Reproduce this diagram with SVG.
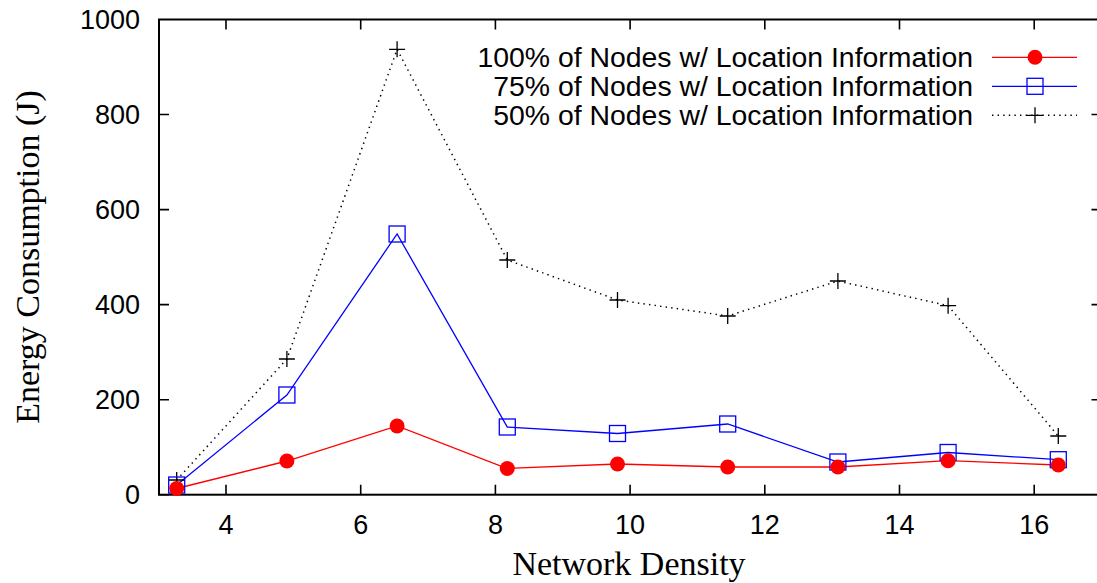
<svg xmlns="http://www.w3.org/2000/svg" width="1097" height="583" viewBox="0 0 1097 583">
<style>
.t{font-family:"Liberation Sans",Arial,sans-serif;font-size:27px;fill:#000}
.lg{font-family:"Liberation Sans",Arial,sans-serif;font-size:28.4px;fill:#000}
.ttl{font-family:"Liberation Serif","Times New Roman",serif;font-size:34px;fill:#000}
.ax{stroke:#000;stroke-width:2;fill:none}
.tk{stroke:#000;stroke-width:1.6}
.red{stroke:#ff0000;stroke-width:1.3;fill:none}
.blue{stroke:#0000ff;stroke-width:1.3;fill:none}
.blk{stroke:#000;stroke-width:1.5;fill:none;stroke-dasharray:1.4 4.2}
.sq{stroke:#0000ff;stroke-width:1.3;fill:none}
.pl{stroke:#000;stroke-width:1.3}
</style>
<defs>
<circle id="mc" r="7.5" fill="#ff0000"/>
<rect id="ms" x="-8" y="-8" width="16" height="16" class="sq"/>
<path id="mp" d="M-8,0H8M0,-8V8" class="pl"/>
</defs>
<rect width="1097" height="583" fill="#fff"/>
<g id="axes">
<rect x="159" y="19.5" width="942.5" height="475.2" class="ax"/>
<g class="tk">
<path d="M159,494.7h10M159,399.7h10M159,304.6h10M159,209.6h10M159,114.5h10M1101.5,399.7h-10M1101.5,304.6h-10M1101.5,209.6h-10M1101.5,114.5h-10"/>
<path d="M226,494.7v-10M360.7,494.7v-10M495.4,494.7v-10M630.1,494.7v-10M764.8,494.7v-10M899.5,494.7v-10M1034.2,494.7v-10"/>
<path d="M226,19.5v10M360.7,19.5v10M495.4,19.5v10M630.1,19.5v10M764.8,19.5v10M899.5,19.5v10M1034.2,19.5v10"/>
</g>
<g class="t" text-anchor="end">
<text x="140" y="504">0</text>
<text x="140" y="409">200</text>
<text x="140" y="314">400</text>
<text x="140" y="219">600</text>
<text x="140" y="124">800</text>
<text x="140" y="29">1000</text>
</g>
<g class="t" text-anchor="middle">
<text x="226" y="534">4</text>
<text x="360.7" y="534">6</text>
<text x="495.4" y="534">8</text>
<text x="630.1" y="534">10</text>
<text x="764.8" y="534">12</text>
<text x="899.5" y="534">14</text>
<text x="1034.2" y="534">16</text>
</g>
<text class="ttl" x="629" y="575" text-anchor="middle">Network Density</text>
<text class="ttl" transform="translate(39,257) rotate(-90)" text-anchor="middle">Energy Consumption (J)</text>
</g>
<g id="connectors">
<polyline class="blk" points="176.7,480 286.9,359 397.1,49.3 507.3,260 617.5,300 727.7,316 837.9,281 948.1,305.7 1058.3,436"/>
<polyline class="blue" points="176.7,485 286.9,395 397.1,234 507.3,427 617.5,433.5 727.7,424 837.9,462 948.1,452.5 1058.3,459.7"/>
<polyline class="red" points="176.7,488.5 286.9,461 397.1,426 507.3,468.5 617.5,464 727.7,467 837.9,467 948.1,460.7 1058.3,465"/>
</g>
<g id="series-50">
<use href="#mp" x="176.7" y="480"/><use href="#mp" x="286.9" y="359"/><use href="#mp" x="397.1" y="49.3"/><use href="#mp" x="507.3" y="260"/><use href="#mp" x="617.5" y="300"/><use href="#mp" x="727.7" y="316"/><use href="#mp" x="837.9" y="281"/><use href="#mp" x="948.1" y="305.7"/><use href="#mp" x="1058.3" y="436"/>
</g>
<g id="series-75">
<use href="#ms" x="176.7" y="485"/><use href="#ms" x="286.9" y="395"/><use href="#ms" x="397.1" y="234"/><use href="#ms" x="507.3" y="427"/><use href="#ms" x="617.5" y="433.5"/><use href="#ms" x="727.7" y="424"/><use href="#ms" x="837.9" y="462"/><use href="#ms" x="948.1" y="452.5"/><use href="#ms" x="1058.3" y="459.7"/>
</g>
<g id="series-100">
<use href="#mc" x="176.7" y="488.5"/><use href="#mc" x="286.9" y="461"/><use href="#mc" x="397.1" y="426"/><use href="#mc" x="507.3" y="468.5"/><use href="#mc" x="617.5" y="464"/><use href="#mc" x="727.7" y="467"/><use href="#mc" x="837.9" y="467"/><use href="#mc" x="948.1" y="460.7"/><use href="#mc" x="1058.3" y="465"/>
</g>
<g id="legend">
<g class="lg" text-anchor="end">
<text x="973" y="67">100% of Nodes w/ Location Information</text>
<text x="973" y="96">75% of Nodes w/ Location Information</text>
<text x="973" y="125">50% of Nodes w/ Location Information</text>
</g>
<path class="red" d="M992,57.3H1077"/><use href="#mc" x="1035" y="57.3"/>
<path class="blue" d="M992,86.3H1077"/><use href="#ms" x="1035" y="86.3"/>
<path class="blk" d="M992,115.3H1077"/><use href="#mp" x="1035" y="115.3"/>
</g>
</svg>
